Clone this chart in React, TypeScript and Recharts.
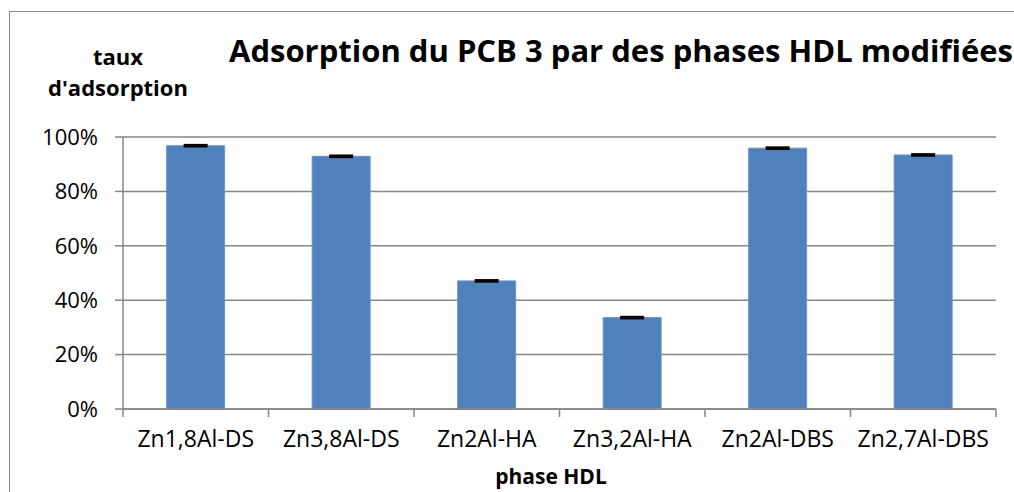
import { BarChart, Bar, XAxis, YAxis, CartesianGrid, ErrorBar } from 'recharts'

// Données.
const phases = ['Zn1,8Al-DS', 'Zn3,8Al-DS', 'Zn2Al-HA', 'Zn3,2Al-HA', 'Zn2Al-DBS', 'Zn2,7Al-DBS']
const tauxAdsorption = [96.8, 92.9, 47.1, 33.6, 95.9, 93.4]
const ecarts = [0.3, 0.3, 0.3, 0.3, 0.3, 0.3]
const yTicks = [0, 20, 40, 60, 80, 100]

const data = phases.map((phase, i) => ({ phase, taux: tauxAdsorption[i], err: ecarts[i] }))

const W = 1014
const H = 492
const margin = { top: 137, right: 18, left: 0, bottom: 0 }
const yAxisWidth = 123
const xAxisHeight = 83
const band = (W - margin.right - yAxisWidth) / phases.length

const font = '"Open Sans", sans-serif'
const gridColor = '#868686'

// Tick personnalisé : étiquette au centre, trait de graduation aux limites de catégorie.
function PhaseTick(props: any) {
  const { x, y, payload, index } = props
  const left = x - band / 2
  const right = x + band / 2
  return (
    <g>
      <line x1={left} y1={y - 8} x2={left} y2={y} stroke={gridColor} strokeWidth={1.5} />
      {index === phases.length - 1 && (
        <line x1={right} y1={y - 8} x2={right} y2={y} stroke={gridColor} strokeWidth={1.5} />
      )}
      <text x={x} y={y + 14} dy="0.71em" textAnchor="middle" fill="#000" fontSize={23} fontFamily={font}>
        {payload.value}
      </text>
    </g>
  )
}

export default function App() {
  return (
    <div style={{ position: 'fixed', top: 0, left: 0, width: W, height: H, background: '#fff', overflow: 'hidden' }}>
      <div
        style={{
          position: 'absolute',
          left: 9,
          top: 11,
          width: W + 50,
          height: H + 50,
          borderLeft: '1.5px solid #898989',
          borderTop: '1.5px solid #898989',
        }}
      />
      <div
        style={{
          position: 'absolute',
          left: 229,
          top: 29,
          fontFamily: font,
          fontWeight: 700,
          fontSize: 31,
          whiteSpace: 'nowrap',
          color: '#000',
        }}
      >
        Adsorption du PCB 3 par des phases HDL modifiées
      </div>
      <div
        style={{
          position: 'absolute',
          left: 43,
          top: 41,
          width: 150,
          textAlign: 'center',
          fontFamily: font,
          fontWeight: 700,
          fontSize: 22,
          lineHeight: '31px',
          color: '#000',
        }}
      >
        taux
        <br />
        d'adsorption
      </div>
      <div
        style={{
          position: 'absolute',
          left: 451,
          top: 462,
          width: 200,
          textAlign: 'center',
          fontFamily: font,
          fontWeight: 700,
          fontSize: 21,
          color: '#000',
        }}
      >
        phase HDL
      </div>
      <div style={{ position: 'absolute', left: 0, top: 0 }}>
        <BarChart width={W} height={H} data={data} margin={margin} barCategoryGap="30%">
          <CartesianGrid horizontal vertical={false} stroke={gridColor} strokeWidth={1.5} />
          <XAxis
            dataKey="phase"
            height={xAxisHeight}
            axisLine={{ stroke: gridColor, strokeWidth: 1.5 }}
            tickLine={false}
            tick={<PhaseTick />}
            interval={0}
          />
          <YAxis
            width={yAxisWidth}
            domain={[0, 100]}
            ticks={yTicks}
            tickFormatter={(v: number) => `${v}%`}
            axisLine={{ stroke: gridColor, strokeWidth: 1.5 }}
            tickLine={{ stroke: gridColor, strokeWidth: 1.5 }}
            tickSize={8}
            tickMargin={17}
            tick={{ fill: '#000', fontSize: 22, fontFamily: font }}
          />
          <Bar dataKey="taux" fill="#4F81BD" stroke="#6A95CB" strokeWidth={1} isAnimationActive={false}>
            <ErrorBar dataKey="err" width={12} stroke="#000" strokeWidth={2} isAnimationActive={false} />
          </Bar>
        </BarChart>
      </div>
    </div>
  )
}
